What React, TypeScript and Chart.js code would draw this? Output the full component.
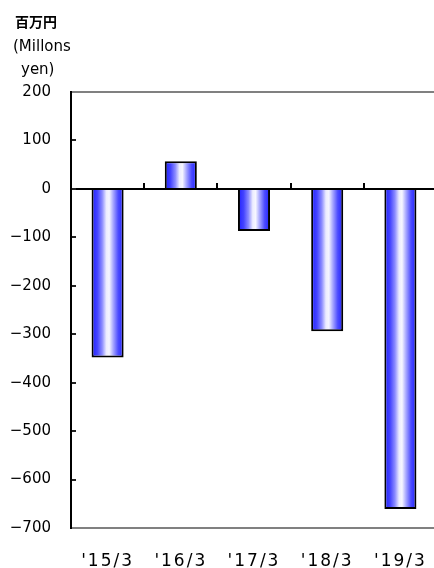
import React, { useEffect, useRef } from "react";
import { Chart, registerables } from "chart.js";

Chart.register(...registerables);

// ---- data ----
const categories = ["'15/3", "'16/3", "'17/3", "'18/3", "'19/3"];
const values = [-348, 57, -87, -294, -661];
const yMin = -700;
const yMax = 200;
const yStep = 100;
const unitLines = ["百万円", "(Millons", "yen)"];

const BAR_FRACTION = 0.438;
const CANVAS_W = 437;
const CANVAS_H = 568;

function fmtTick(v: number): string {
  return v < 0 ? "\u2212" + Math.abs(v) : String(v);
}

const xLabelSpacing = {
  id: "xLabelSpacing",
  afterDatasetsDraw(chart: any) {
    chart.ctx.letterSpacing = "2px";
  },
  afterDraw(chart: any) {
    chart.ctx.letterSpacing = "0px";
  },
};

export default function App() {
  const ref = useRef<HTMLCanvasElement>(null);

  useEffect(() => {
    const canvas = ref.current;
    if (!canvas) return;

    const barFill = (c: any) => {
      const chart = c.chart;
      const xs = chart.scales && chart.scales.x;
      if (!xs || typeof c.dataIndex !== "number" || !chart.chartArea) return "#5a5aff";
      const cx = xs.getPixelForValue(c.dataIndex);
      const w = (xs.width / categories.length) * BAR_FRACTION;
      const g = chart.ctx.createLinearGradient(cx - w / 2, 0, cx + w / 2, 0);
      g.addColorStop(0, "#1e1eff");
      g.addColorStop(0.18, "#4444ff");
      g.addColorStop(0.33, "#8c8cff");
      g.addColorStop(0.46, "#ececff");
      g.addColorStop(0.55, "#f6f6ff");
      g.addColorStop(0.68, "#a4a4ff");
      g.addColorStop(0.83, "#4c4cff");
      g.addColorStop(1, "#1e1eff");
      return g;
    };

    const chart = new Chart(canvas, {
      type: "bar",
      data: {
        labels: categories,
        datasets: [
          {
            data: values,
            backgroundColor: barFill as any,
            borderColor: "#000000",
            borderWidth: 2,
            barPercentage: BAR_FRACTION,
            categoryPercentage: 1,
          },
        ],
      },
      plugins: [xLabelSpacing],
      options: {
        responsive: false,
        animation: false,
        devicePixelRatio: 1,
        layout: { padding: { top: 92, left: 0, right: 0, bottom: 0 } },
        plugins: {
          legend: { display: false },
          tooltip: { enabled: false },
        },
        scales: {
          x: {
            type: "category",
            position: "bottom",
            offset: true,
            grid: { display: false, offset: true },
            border: { display: true, color: "#808080", width: 2 },
            ticks: {
              z: 1,
              padding: 15,
              color: "#000000",
              maxRotation: 0,
              autoSkip: false,
              font: { family: "'DejaVu Sans', sans-serif", size: 17 },
            },
            afterFit: (s: any) => {
              s.height = 40;
            },
          } as any,
          x2: {
            type: "category",
            position: { y: 0 },
            offset: true,
            grid: {
              display: true,
              offset: true,
              drawOnChartArea: false,
              drawTicks: true,
              tickLength: -6,
              color: "#000000",
              lineWidth: 2,
            },
            border: { display: false },
            ticks: { display: false },
          } as any,
          y: {
            type: "linear",
            position: "left",
            min: yMin,
            max: yMax,
            border: { display: true, color: "#000000", width: 2 },
            grid: {
              display: true,
              drawOnChartArea: true,
              drawTicks: true,
              tickLength: -5,
              tickWidth: 2,
              color: (c: any) =>
                c.tick && c.tick.value === 0
                  ? "#000000"
                  : c.tick && c.tick.value === yMax
                  ? "#808080"
                  : "rgba(0,0,0,0)",
              lineWidth: 2,
              tickColor: (c: any) =>
                c.tick && (c.tick.value === yMax || c.tick.value === yMin)
                  ? "rgba(0,0,0,0)"
                  : "#222222",
            },
            ticks: {
              stepSize: yStep,
              padding: 25,
              color: "#000000",
              font: { family: "'DejaVu Sans', sans-serif", size: 15 },
              callback: (v: any) => fmtTick(Number(v)),
            },
            afterFit: (s: any) => {
              s.width = 71;
            },
          } as any,
        },
      },
    });

    return () => chart.destroy();
  }, []);

  return (
    <div
      style={{
        position: "absolute",
        left: 0,
        top: 0,
        width: 434,
        height: 568,
        overflow: "hidden",
        background: "#ffffff",
      }}
    >
      <canvas
        ref={ref}
        width={CANVAS_W}
        height={CANVAS_H}
        style={{ display: "block", width: CANVAS_W, height: CANVAS_H }}
      />
      <div
        style={{
          position: "absolute",
          left: 15,
          top: 14,
          fontFamily: "'Noto Sans CJK JP', sans-serif",
          fontSize: 14,
          lineHeight: "14px",
          fontWeight: "bold",
          color: "#000",
          whiteSpace: "nowrap",
        }}
      >
        {unitLines[0]}
      </div>
      <div
        style={{
          position: "absolute",
          left: 13,
          top: 39,
          fontFamily: "'DejaVu Sans', sans-serif",
          fontSize: 15,
          lineHeight: "15px",
          color: "#000",
          whiteSpace: "nowrap",
        }}
      >
        {unitLines[1]}
      </div>
      <div
        style={{
          position: "absolute",
          left: 21,
          top: 62,
          fontFamily: "'DejaVu Sans', sans-serif",
          fontSize: 15,
          lineHeight: "15px",
          color: "#000",
          whiteSpace: "nowrap",
        }}
      >
        {unitLines[2]}
      </div>
    </div>
  );
}
